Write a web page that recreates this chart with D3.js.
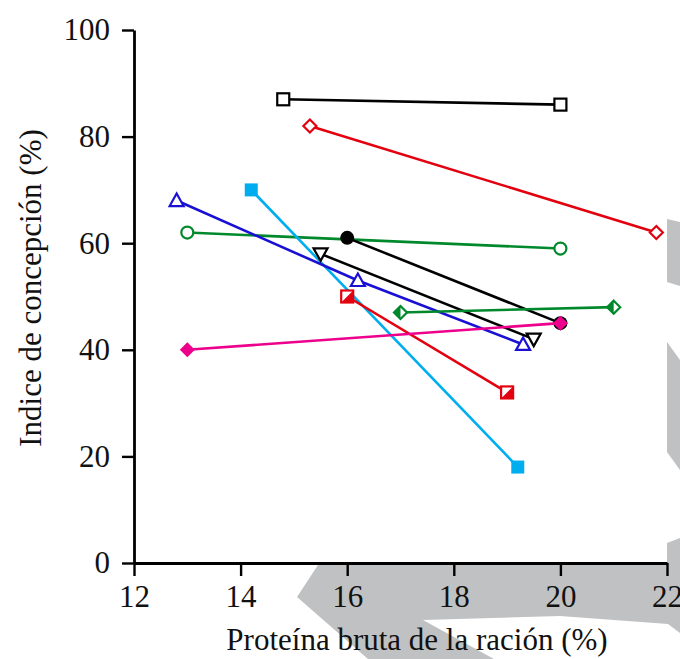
<!DOCTYPE html>
<html>
<head>
<meta charset="utf-8">
<script src="https://cdn.jsdelivr.net/npm/d3@7"></script>
<style>
body { margin: 0; background: #fff; }
svg { display: block; }
svg text { font-family: "Liberation Serif", "DejaVu Serif", serif; }
</style>
</head>
<body>
<div id="chart"></div>
<script>
// ejes
const xTicks = [12, 14, 16, 18, 20, 22];
const yTicks = [0, 20, 40, 60, 80, 100];

// series: proteina bruta (%) vs indice de concepcion (%)
const seriesIds = ["cuadrado_negro", "rombo_rojo", "circulo_verde", "circulo_negro", "cuadrado_celeste",
                   "triangulo_azul", "triangulo_negro", "cuadrado_rojo", "rombo_verde", "rombo_rosa"];
const seriesX = [[14.8, 20], [15.3, 21.8], [13, 20], [16, 20], [14.2, 19.2],
                 [12.8, 16.2, 19.3], [15.5, 19.5], [16, 19], [17, 21], [13, 20]];
const seriesY = [[87, 86], [82, 62], [62, 59], [61, 45], [70, 18],
                 [68, 53, 41], [58, 42], [50, 32], [47, 48], [40, 45]];
const seriesColor = ["#000000", "#e3000f", "#00892c", "#000000", "#00aeef",
                     "#1a10d4", "#000000", "#e3000f", "#00892c", "#ec008c"];
const seriesMarker = ["squareOpen", "diamondOpen", "circleOpen", "circleFilled", "squareFilled",
                      "triUpOpen", "triDownOpen", "squareHalf", "diamondHalf", "diamondFilled"];

const width = 680, height = 659;
const svg = d3.select("#chart").append("svg")
    .attr("width", width)
    .attr("height", height);

const x = d3.scaleLinear().domain([12, 22]).range([134, 667]);
const y = d3.scaleLinear().domain([0, 100]).range([563, 30]);

// decorative grey arrow shapes in the background
const grey = "#c0c1c3";
const bgShapes = [
    [[318, 565], [297, 597], [368, 659], [494, 659], [423, 620], [560, 616], [668, 624], [680, 633],
     [680, 538], [667, 543], [667, 565]],
    [[667, 219], [680, 222], [680, 286], [667, 282]],
    [[667, 342], [680, 360], [680, 470], [667, 452]]
];
svg.append("g").selectAll("polygon")
    .data(bgShapes)
    .join("polygon")
    .attr("points", d => d.map(p => p.join(",")).join(" "))
    .attr("fill", grey);

// axes
const yAxis = svg.append("g")
    .attr("transform", `translate(${x(12)},0)`)
    .call(d3.axisLeft(y).tickValues(yTicks).tickSize(12).tickSizeOuter(0).tickPadding(12));

const xAxis = svg.append("g")
    .attr("transform", `translate(0,${y(0)})`)
    .call(d3.axisBottom(x).tickValues(xTicks).tickSize(13).tickSizeOuter(0).tickPadding(9));

[xAxis, yAxis].forEach(g => {
    g.attr("font-family", null);
    g.select(".domain").attr("stroke-width", 2.8).attr("stroke", "#000");
    g.selectAll(".tick line").attr("stroke-width", 2.4).attr("stroke", "#000");
    g.selectAll(".tick text")
        .style("font-family", "'Liberation Serif', 'DejaVu Serif', serif")
        .style("font-size", "31px")
        .attr("fill", "#111");
});

// axis titles
svg.append("text")
    .attr("transform", `translate(41,288) rotate(-90)`)
    .attr("text-anchor", "middle")
    .style("font-size", "31px")
    .attr("fill", "#111")
    .text("Indice de concepción (%)");

svg.append("text")
    .attr("x", 417)
    .attr("y", 650)
    .attr("text-anchor", "middle")
    .style("font-size", "31px")
    .attr("fill", "#111")
    .text("Proteína bruta de la ración (%)");

// markers
let drawMarker = function(g, kind, color) {
    const sw = 2.2;
    if (kind === "squareOpen") {
        g.append("rect").attr("x", -6).attr("y", -6).attr("width", 12).attr("height", 12)
            .attr("fill", "#fff").attr("stroke", color).attr("stroke-width", sw);
    } else if (kind === "squareFilled") {
        g.append("rect").attr("x", -6.5).attr("y", -6.5).attr("width", 13).attr("height", 13)
            .attr("fill", color);
    } else if (kind === "squareHalf") {
        g.append("rect").attr("x", -6).attr("y", -6).attr("width", 12).attr("height", 12)
            .attr("fill", "#fff").attr("stroke", color).attr("stroke-width", sw);
        g.append("path").attr("d", "M-6,6L6,-6L6,6Z").attr("fill", color);
    } else if (kind === "diamondOpen") {
        g.append("path").attr("d", "M0,-6.5L6.5,0L0,6.5L-6.5,0Z")
            .attr("fill", "#fff").attr("stroke", color).attr("stroke-width", sw);
    } else if (kind === "diamondFilled") {
        g.append("path").attr("d", "M0,-7.5L7.5,0L0,7.5L-7.5,0Z").attr("fill", color);
    } else if (kind === "diamondHalf") {
        g.append("path").attr("d", "M0,-6.5L6.5,0L0,6.5L-6.5,0Z")
            .attr("fill", "#fff").attr("stroke", color).attr("stroke-width", sw);
        g.append("path").attr("d", "M0,-6.5L-6.5,0L0,6.5Z").attr("fill", color);
    } else if (kind === "circleOpen") {
        g.append("circle").attr("r", 6)
            .attr("fill", "#fff").attr("stroke", color).attr("stroke-width", sw);
    } else if (kind === "circleFilled") {
        g.append("circle").attr("r", 7).attr("fill", color);
    } else if (kind === "triUpOpen") {
        g.append("path").attr("d", "M0,-7L7,5.5L-7,5.5Z")
            .attr("fill", "#fff").attr("stroke", color).attr("stroke-width", sw);
    } else if (kind === "triDownOpen") {
        g.append("path").attr("d", "M0,7L7,-5.5L-7,-5.5Z")
            .attr("fill", "#fff").attr("stroke", color).attr("stroke-width", sw);
    }
};

const line = d3.line().x(d => x(d[0])).y(d => y(d[1]));
const plot = svg.append("g");

seriesIds.forEach((id, i) => {
    const pts = seriesX[i].map((v, j) => [v, seriesY[i][j]]);
    const g = plot.append("g").attr("class", id);
    g.append("path")
        .datum(pts)
        .attr("d", line)
        .attr("fill", "none")
        .attr("stroke", seriesColor[i])
        .attr("stroke-width", 2.6);
    g.selectAll("g.pt")
        .data(pts)
        .join("g")
        .attr("class", "pt")
        .attr("transform", d => `translate(${x(d[0])},${y(d[1])})`)
        .each(function() { drawMarker(d3.select(this), seriesMarker[i], seriesColor[i]); });
});
</script>
</body>
</html>
